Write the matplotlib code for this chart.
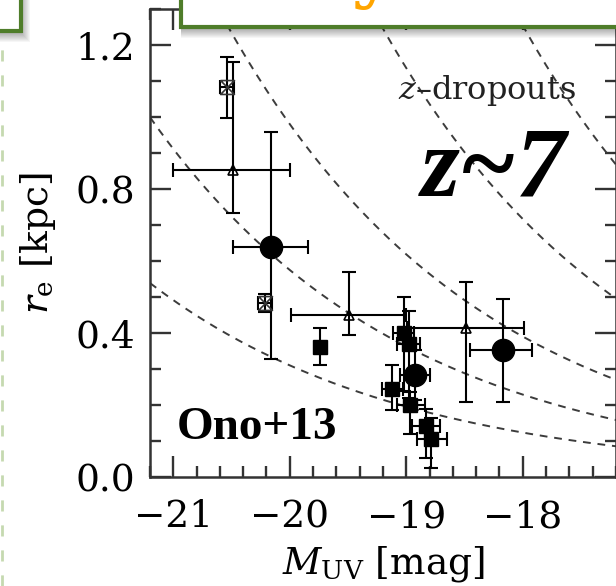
import numpy as np
import matplotlib
matplotlib.use("Agg")
import matplotlib.pyplot as plt
from matplotlib.patches import Rectangle
from matplotlib.ticker import MultipleLocator

plt.rcParams['font.family'] = 'DejaVu Serif'
plt.rcParams['mathtext.fontset'] = 'dejavuserif'

# Ono+13 individual galaxies (filled squares)
sq_x = [-19.02, -18.98, -19.12, -18.97, -18.835, -18.79, -19.74]
sq_y = [0.40, 0.37, 0.245, 0.20, 0.143, 0.105, 0.362]
sq_xlo = [0.09, 0.10, 0.09, 0.11, 0.12, 0.12, 0.0]
sq_xhi = [0.09, 0.10, 0.09, 0.13, 0.12, 0.14, 0.0]
sq_ylo = [0.16, 0.15, 0.06, 0.08, 0.09, 0.08, 0.052]
sq_yhi = [0.10, 0.09, 0.065, 0.035, 0.045, 0.06, 0.053]

# stacked points (filled circles)
ci_x = [-20.165, -18.925, -18.17]
ci_y = [0.64, 0.283, 0.353]
ci_xlo = [0.32, 0.13, 0.28]
ci_xhi = [0.325, 0.13, 0.25]
ci_ylo = [0.313, 0.07, 0.146]
ci_yhi = [0.317, 0.07, 0.141]

# open triangles
tr_x = [-20.49, -19.49, -18.49]
tr_y = [0.853, 0.45, 0.415]
tr_xlo = [0.51, 0.50, 0.50]
tr_xhi = [0.49, 0.49, 0.50]
tr_ylo = [0.12, 0.056, 0.208]
tr_yhi = [0.30, 0.12, 0.128]

# open hourglass symbols
hg_x = [-20.54, -20.215]
hg_y = [1.084, 0.482]
hg_xerr = [0.06, 0.06]
hg_ylo = [0.088, 0.025]
hg_yhi = [0.083, 0.025]

# constant surface brightness curves r = A * 10^(-0.2 (M + 20))
curve_amp = [0.31, 0.575, 0.98, 1.80, 3.15]

fig = plt.figure(figsize=(6.16, 5.86), dpi=100)
ax = fig.add_axes([150 / 616, 109 / 586, 466 / 616, 468 / 586])

mm = np.linspace(-21.2, -17.2, 200)
for a in curve_amp:
    ax.plot(mm, a * 10 ** (-0.2 * (mm + 20)), ls=(0, (4, 3.5)), color='#3c3c3c', lw=1.4)

eb = dict(fmt='none', ecolor='black', elinewidth=1.5, capsize=4.7, capthick=1.5)

ax.errorbar(sq_x, sq_y, xerr=[sq_xlo, sq_xhi], yerr=[sq_ylo, sq_yhi], **eb)
ax.plot(sq_x, sq_y, 's', color='black', ms=9.5, ls='none')

ax.errorbar(ci_x, ci_y, xerr=[ci_xlo, ci_xhi], yerr=[ci_ylo, ci_yhi], **eb)
ax.plot(ci_x, ci_y, 'o', color='black', ms=16, ls='none')

ax.errorbar(tr_x, tr_y, xerr=[tr_xlo, tr_xhi], yerr=[tr_ylo, tr_yhi], **eb)
ax.plot(tr_x, tr_y, '^', mfc='none', mec='black', mew=1.2, ms=7, ls='none')

hourglass = [(-1, 1), (1, 1), (-1, -1), (1, -1), (-1, 1)]
ax.errorbar(hg_x, hg_y, xerr=hg_xerr, yerr=[hg_ylo, hg_yhi], **eb)
ax.plot(hg_x, hg_y, marker=hourglass, mfc='none', mec='#333333', mew=1.2, ms=10, ls='none')

ax.set_xlim(-21.2, -17.2)
ax.set_ylim(0.0, 1.3)
ax.xaxis.set_major_locator(MultipleLocator(1))
ax.xaxis.set_minor_locator(MultipleLocator(0.2))
ax.yaxis.set_major_locator(MultipleLocator(0.4))
ax.yaxis.set_minor_locator(MultipleLocator(0.1))
ax.tick_params(which='both', direction='in', top=True, right=True, width=1.7,
               color='#333333', labelsize=27, pad=11)
ax.tick_params(axis='x', which='both', pad=16)
ax.tick_params(which='major', length=15)
ax.tick_params(which='minor', length=8)
ax.yaxis.set_major_formatter(matplotlib.ticker.FormatStrFormatter('%.1f'))
ax.xaxis.set_major_formatter(matplotlib.ticker.FuncFormatter(lambda v, p: '\u2212%d' % abs(round(v))))
for s in ax.spines.values():
    s.set_linewidth(1.8)
    s.set_color('#333333')

ax.set_xlabel(r'$M_{\rm UV}$ [mag]', fontsize=27, labelpad=6)
ax.set_ylabel(r'$r_{\rm e}$ [kpc]', fontsize=27, labelpad=12)

ax.text(-19.07, 1.075, r'$z$' + '\u2013dropouts', fontsize=23, color='#222222',
        ha='left', va='center')
ax.text(-18.25, 0.85, 'z~7', fontsize=72, fontweight='bold', fontstyle='italic',
        family='Liberation Serif', ha='center', va='center')
ax.text(-20.97, 0.135, 'Ono+13', fontsize=34, fontweight='bold',
        family='Liberation Serif', ha='left', va='center')

# slide overlay boxes at the top
W, H = 616.0, 586.0
green = '#4f7d2a'
def box(x0, y0, x1, y1):
    for i in range(10):
        fig.add_artist(Rectangle((x0 / W, (H - y1 - i - 2) / H), (x1 - x0 + i) / W, (y1 - y0) / H,
                                 transform=fig.transFigure, facecolor='black', edgecolor='none',
                                 alpha=0.035, zorder=9))
    fig.add_artist(Rectangle((x0 / W, (H - y1) / H), (x1 - x0) / W, (y1 - y0) / H,
                             transform=fig.transFigure, facecolor='white', edgecolor=green,
                             linewidth=3, zorder=10))

box(-20, -20, 21, 31)
box(181, -20, 640, 27)
fig.text(372 / W, (H + 5) / H, 'y', fontsize=50, fontweight='bold', color='#ffa500',
         ha='center', va='baseline', zorder=11)
fig.add_artist(plt.Line2D([1.5 / W, 1.5 / W], [0, (H - 45) / H], transform=fig.transFigure,
                          color='#c5d9b0', lw=2, ls=(0, (4, 5)), zorder=10))

fig.savefig('out.png', dpi=100)
